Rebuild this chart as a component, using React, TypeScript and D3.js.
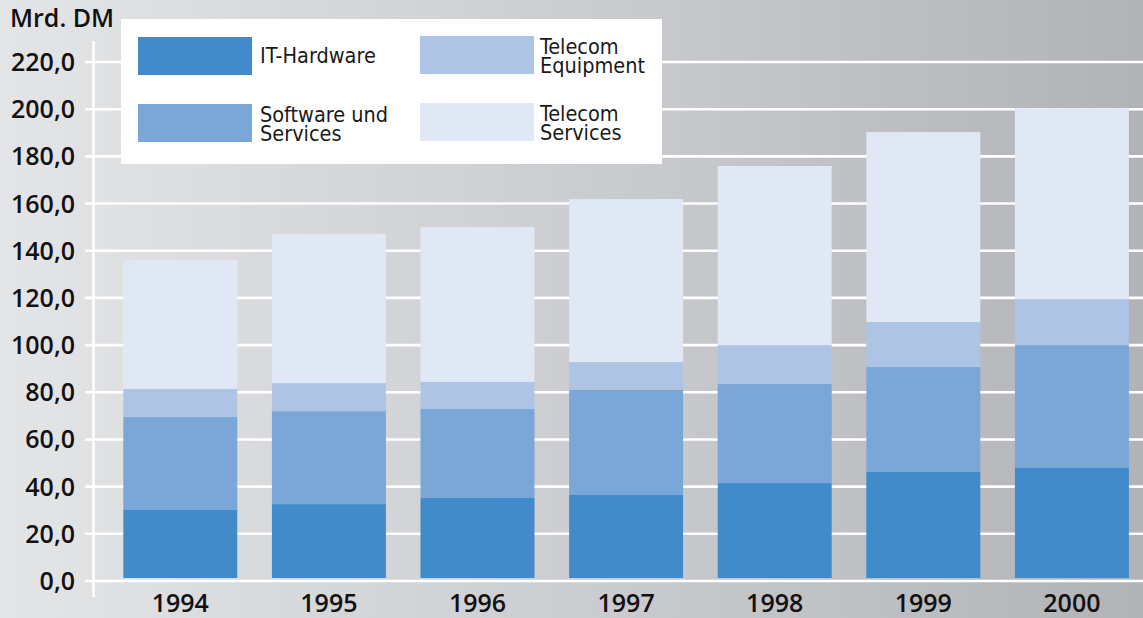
import React from "react";
import * as d3 from "d3";

const years = ["1994", "1995", "1996", "1997", "1998", "1999", "2000"];
const itHardware = [30.1, 32.6, 35.2, 36.5, 41.5, 46.2, 47.9];
const softwareServices = [39.4, 39.4, 37.7, 44.5, 42.0, 44.5, 52.1];
const telecomEquipment = [11.9, 11.9, 11.5, 11.8, 16.5, 19.1, 19.5];
const telecomServices = [54.7, 63.2, 65.7, 69.1, 75.9, 80.5, 80.9];
const yTicks = [0, 20, 40, 60, 80, 100, 120, 140, 160, 180, 200, 220];
const seriesKeys = ["hw", "sw", "teq", "tsv"];
const seriesColors = ["#418bca", "#7ba6d8", "#adc4e4", "#e0e8f5"];
const legendLabels = [["IT-Hardware"], ["Software und", "Services"], ["Telecom", "Equipment"], ["Telecom", "Services"]];
const unitLabel = "Mrd. DM";

const W = 1143;
const H = 618;

export default function App() {
  const rows = years.map((yr, i) => ({
    year: yr,
    hw: itHardware[i],
    sw: softwareServices[i],
    teq: telecomEquipment[i],
    tsv: telecomServices[i],
  }));
  const stack = d3.stack<any>().keys(seriesKeys)(rows);
  const x = d3.scaleBand().domain(years).range([106, 1146.2]).paddingInner(0.233).paddingOuter(0.1165);
  const y = d3.scaleLinear().domain([0, 220]).range([581, 62]);
  const base = y(0);
  const barBottom = base - 3;
  const fmt = (v: number) => d3.format(".1f")(v).replace(".", ",");
  const numFont = "'Open Sans', 'DejaVu Sans', sans-serif";
  const legFont = "'DejaVu Sans Condensed', 'Liberation Sans Narrow', 'DejaVu Sans', sans-serif";
  const numSize = 25;

  const legendPos = [
    { sx: 138, sy: 37, tx: 260 },
    { sx: 138, sy: 104, tx: 260 },
    { sx: 420, sy: 36, tx: 540 },
    { sx: 420, sy: 103, tx: 540 },
  ];

  return (
    <svg width={W} height={H} style={{ position: "absolute", left: 0, top: 0, display: "block" }}>
      <defs>
        <linearGradient id="bg" x1="0" y1="0" x2="1" y2="0">
          <stop offset="0%" stopColor="#e4e5e7" />
          <stop offset="50%" stopColor="#cccdd0" />
          <stop offset="100%" stopColor="#b2b3b7" />
        </linearGradient>
      </defs>
      <rect x={0} y={0} width={W} height={H} fill="url(#bg)" />

      {/* gridlines */}
      {yTicks.map((t) => (
        <line key={"g" + t} x1={85} x2={W} y1={y(t)} y2={y(t)} stroke="#ffffff" strokeWidth={2.6} />
      ))}
      {/* y axis line */}
      <line x1={93.5} x2={93.5} y1={41} y2={597} stroke="#ffffff" strokeWidth={2.6} />

      {/* tick labels */}
      {yTicks.map((t) => (
        <text
          key={"t" + t}
          x={75}
          y={y(t)}
          dy="0.36em"
          textAnchor="end"
          fontFamily={numFont}
          fontWeight={600}
          fontSize={numSize}
          fill="#111"
        >
          {fmt(t)}
        </text>
      ))}
      <text x={10} y={27} fontFamily={numFont} fontWeight={600} fontSize={numSize} fill="#111">
        {unitLabel}
      </text>

      {/* bars */}
      {stack.map((layer, li) => (
        <g key={layer.key} fill={seriesColors[li]}>
          {layer.map((d: any, i: number) => {
            const top = y(d[1]);
            const bot = Math.min(y(d[0]), barBottom);
            return (
              <rect key={i} x={x(years[i])} y={top} width={x.bandwidth()} height={Math.max(0, bot - top)} />
            );
          })}
        </g>
      ))}

      {/* year labels */}
      {years.map((yr) => (
        <text
          key={yr}
          x={(x(yr) as number) + x.bandwidth() / 2}
          y={612}
          textAnchor="middle"
          fontFamily={numFont}
          fontWeight={600}
          fontSize={numSize}
          fill="#111"
        >
          {yr}
        </text>
      ))}

      {/* legend */}
      <rect x={121} y={19} width={541} height={145} fill="#ffffff" />
      {legendLabels.map((lines, i) => {
        const p = legendPos[i];
        const single = lines.length === 1;
        return (
          <g key={"l" + i}>
            <rect x={p.sx} y={p.sy} width={114} height={38} fill={seriesColors[i]} />
            {lines.map((ln, j) => (
              <text
                key={j}
                x={p.tx}
                y={single ? p.sy + 26 : p.sy + 18 + j * 19}
                fontFamily={legFont}
                fontSize={21.5}
                fill="#1a1a1a"
              >
                {ln}
              </text>
            ))}
          </g>
        );
      })}
    </svg>
  );
}
